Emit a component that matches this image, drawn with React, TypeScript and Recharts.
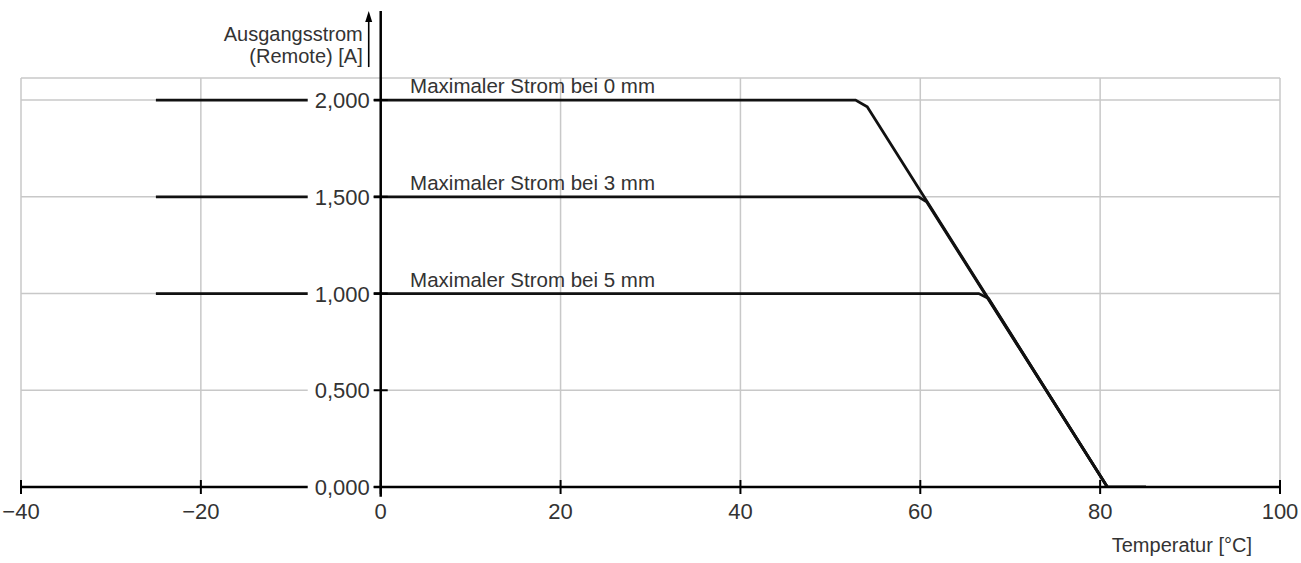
import React from 'react';
import { LineChart, Line, XAxis, YAxis, CartesianGrid, ReferenceLine, ReferenceDot } from 'recharts';

const xTicks = [-40, -20, 0, 20, 40, 60, 80, 100];
const xTickLabels = ['−40', '−20', '0', '20', '40', '60', '80', '100'];
const yTicks = [0, 0.5, 1, 1.5, 2];
const yTickLabels = ['0,000', '0,500', '1,000', '1,500', '2,000'];

const temp0 = [-25, 52.8, 54.1, 80.8, 85.1];
const current0 = [2, 2, 1.965, 0, 0];
const temp3 = [-25, 59.8, 60.7, 80.8];
const current3 = [1.5, 1.5, 1.474, 0];
const temp5 = [-25, 66.5, 67.6, 80.8];
const current5 = [1, 1, 0.974, 0];

const seriesLabels = ['Maximaler Strom bei 0 mm', 'Maximaler Strom bei 3 mm', 'Maximaler Strom bei 5 mm'];
const seriesLabelLevels = [2, 1.5, 1];
const seriesLabelX = 3.27;

const yAxisTitle = ['Ausgangsstrom', '(Remote) [A]'];
const xAxisTitle = 'Temperatur [°C]';
const yAxisTop = 2.46;
const yAxisBottom = -0.05;
const yDomainMax = 2.114;

const FONT = '"Liberation Sans", Arial, sans-serif';
const TEXT = '#333';

const toRows = (t: number[], a: number[]) => t.map((x, i) => ({ t: x, a: a[i] }));
const series = [toRows(temp0, current0), toRows(temp3, current3), toRows(temp5, current5)];

const XTick = (props: any) => {
  const { x, y, index } = props;
  return (
    <g>
      <line x1={x} x2={x} y1={y - 7} y2={y + 7} stroke="#000" strokeWidth={2} />
      <text x={x} y={y + 32} textAnchor="middle" fontFamily={FONT} fontSize={22} fill={TEXT}>
        {xTickLabels[index]}
      </text>
    </g>
  );
};

const makeYTickShape = (label: string) => (p: any) => {
  const { cx, cy } = p;
  return (
    <g>
      <rect x={cx - 73} y={cy - 12} width={66} height={24} fill="#fff" />
      <line x1={cx - 7} x2={cx + 7} y1={cy} y2={cy} stroke="#000" strokeWidth={2} />
      <text x={cx - 11} y={cy + 8} textAnchor="end" fontFamily={FONT} fontSize={22} fill={TEXT}>
        {label}
      </text>
    </g>
  );
};

const makeSeriesLabel = (label: string) => (p: any) => (
  <text x={p.cx} y={p.cy - 7} textAnchor="start" fontFamily={FONT} fontSize={20.5} fill={TEXT}>
    {label}
  </text>
);

const YTitleShape = (p: any) => {
  const { cx, cy } = p;
  const ax = cx - 12;
  return (
    <g>
      <text x={cx - 18} y={cy + 30} textAnchor="end" fontFamily={FONT} fontSize={20} fill={TEXT}>
        {yAxisTitle[0]}
      </text>
      <text x={cx - 18} y={cy + 52} textAnchor="end" fontFamily={FONT} fontSize={20} fill={TEXT}>
        {yAxisTitle[1]}
      </text>
      <line x1={ax} x2={ax} y1={cy + 10} y2={cy + 56} stroke="#000" strokeWidth={1.6} />
      <path d={`M ${ax} ${cy} L ${ax - 3.5} ${cy + 11} L ${ax + 3.5} ${cy + 11} Z`} fill="#000" />
    </g>
  );
};

const XTitleShape = (p: any) => (
  <text x={p.cx - 28} y={p.cy + 65} textAnchor="end" fontFamily={FONT} fontSize={20} fill={TEXT}>
    {xAxisTitle}
  </text>
);

export default function App() {
  return (
    <div style={{ position: 'absolute', left: 0, top: 0, width: 1301, height: 563, background: '#fff' }}>
      <LineChart width={1301} height={563} margin={{ top: 78, right: 21, bottom: 0, left: 21 }}>
        <CartesianGrid stroke="#c8c8c8" strokeWidth={1.5} />
        <XAxis
          type="number"
          dataKey="t"
          domain={[-40, 100]}
          ticks={xTicks}
          allowDataOverflow
          height={76}
          tickSize={0}
          tickMargin={0}
          tickLine={false}
          axisLine={{ stroke: '#000', strokeWidth: 2.5 }}
          tick={<XTick />}
          interval={0}
        />
        <YAxis type="number" dataKey="a" domain={[0, yDomainMax]} ticks={yTicks} allowDataOverflow hide width={0} />
        {series.map((d, i) => (
          <Line
            key={i}
            data={d}
            dataKey="a"
            type="linear"
            stroke="#111"
            strokeWidth={2.8}
            dot={false}
            activeDot={false}
            isAnimationActive={false}
          />
        ))}
        <ReferenceLine
          segment={[{ x: 0, y: yAxisBottom }, { x: 0, y: yAxisTop }]}
          ifOverflow="visible"
          stroke="#000"
          strokeWidth={2.5}
        />
        {yTicks.map((v, i) => (
          <ReferenceDot key={'yt' + i} x={0} y={v} r={1} ifOverflow="visible" shape={makeYTickShape(yTickLabels[i])} />
        ))}
        {seriesLabels.map((s, i) => (
          <ReferenceDot key={'sl' + i} x={seriesLabelX} y={seriesLabelLevels[i]} r={1} ifOverflow="visible" shape={makeSeriesLabel(s)} />
        ))}
        <ReferenceDot x={0} y={yAxisTop} r={1} ifOverflow="visible" shape={YTitleShape} />
        <ReferenceDot x={100} y={0} r={1} ifOverflow="visible" shape={XTitleShape} />
      </LineChart>
    </div>
  );
}
